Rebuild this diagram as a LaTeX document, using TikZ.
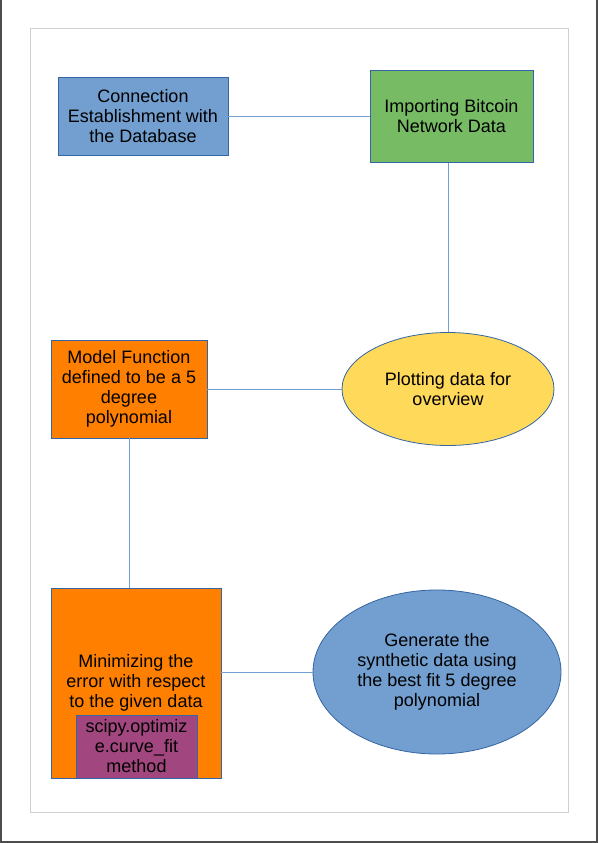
\documentclass[tikz,border=0pt]{standalone}
\usepackage{fontspec}
\setmainfont{Liberation Sans}
\usetikzlibrary{shapes.geometric}
\definecolor{boxblue}{HTML}{729FCF}
\definecolor{lineblue}{HTML}{3465A4}
\definecolor{boxgreen}{HTML}{77BC65}
\definecolor{boxyellow}{HTML}{FFD95A}
\definecolor{boxorange}{HTML}{FF8000}
\definecolor{boxpurple}{HTML}{A1467E}
\definecolor{pageframe}{HTML}{4D4D4D}
\definecolor{sheetframe}{HTML}{D0D0D0}
\begin{document}
\begin{tikzpicture}[x=1pt, y=-1pt,
  stepbox/.style={rectangle, draw=lineblue, line width=0.8pt, inner sep=0pt, align=center,
    font=\fontsize{18}{20}\selectfont},
  stepoval/.style={ellipse, draw=lineblue, line width=0.8pt, inner sep=0pt, align=center,
    font=\fontsize{18}{20}\selectfont},
  link/.style={draw=boxblue, line width=1pt}]
\useasboundingbox (0,0) rectangle (598,843);
\draw[pageframe, line width=2pt] (1,0) -- (1,842) -- (597,842) -- (597,0);
\draw[sheetframe, line width=1pt] (30.5,28.5) rectangle (568.5,812.5);
\node[stepbox, fill=boxblue, minimum width=170pt, minimum height=78pt] (conn) at (143,116.5)
  {Connection\\Establishment with\\the Database};
\node[stepbox, fill=boxgreen, minimum width=163pt, minimum height=92pt] (import) at (451.5,116.5)
  {Importing Bitcoin\\Network Data};
\node[stepoval, fill=boxyellow, minimum width=212pt, minimum height=113pt] (plot) at (448,389)
  {Plotting data for\\overview};
\node[stepbox, fill=boxorange, minimum width=156pt, minimum height=98pt] (model) at (129,389)
  {Model Function\\defined to be a 5\\degree\\polynomial};
\node[stepbox, fill=boxorange, minimum width=170pt, minimum height=190pt] (minim) at (136,683)
  {Minimizing the\\error with respect\\to the given data};
\node[stepbox, fill=boxpurple, minimum width=121pt, minimum height=63pt] (scipy) at (136.5,746.5)
  {scipy.optimiz\\e.curve\_fit\\method};
\node[stepoval, fill=boxblue, minimum width=248pt, minimum height=164pt] (synth) at (437,672)
  {Generate the\\synthetic data using\\the best fit 5 degree\\polynomial};
\draw[link](conn) -- (import);
\draw[link](plot.north) -- (plot.north |- import.south);
\draw[link](model) -- (plot);
\draw[link](model.south) -- (model.south |- minim.north);
\draw[link](synth.west) -- (synth.west -| minim.east);
\end{tikzpicture}
\end{document}
